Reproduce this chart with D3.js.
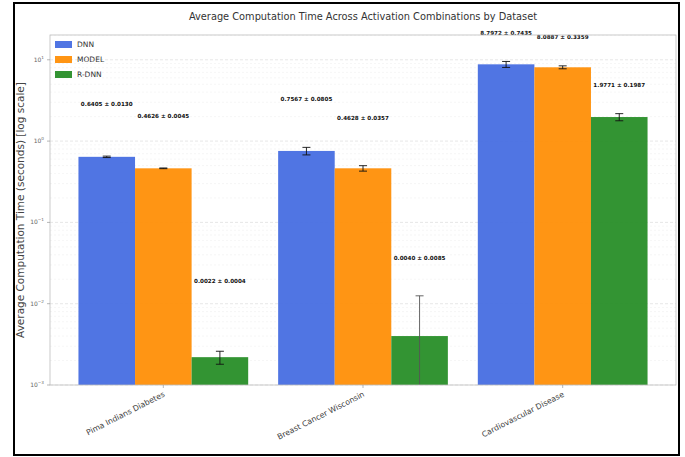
<!DOCTYPE html>
<html>
<head>
<meta charset="utf-8">
<script src="https://cdn.jsdelivr.net/npm/d3@7/dist/d3.min.js"></script>
<style>
  html, body { margin: 0; padding: 0; background: #fff; }
  svg { display: block; font-family: "DejaVu Sans", sans-serif; }
</style>
</head>
<body>
<svg id="chart" width="685" height="457"></svg>
<script>
// Datasets, model variants and measured times (seconds, mean ± std)
const datasets = ["Pima Indians Diabetes", "Breast Cancer Wisconsin", "Cardiovascular Disease"];
const models = ["DNN", "MODEL", "R-DNN"];
const colors = ["#4169E1", "#FF8C00", "#228B22"];

const dnnMean   = [0.6405, 0.7567, 8.7972];
const dnnStd    = [0.0130, 0.0805, 0.7435];
const modelMean = [0.4626, 0.4628, 8.0887];
const modelStd  = [0.0045, 0.0357, 0.3359];
const rdnnMean  = [0.0022, 0.0040, 1.9771];
const rdnnStd   = [0.0004, 0.0085, 0.1987];

const yTickValues = [1e-3, 1e-2, 1e-1, 1e0, 1e1];
const yTickExp    = ["-3", "-2", "-1", "0", "1"];

const means = [dnnMean, modelMean, rdnnMean];
const stds  = [dnnStd, modelStd, rdnnStd];

// Layout
const plot = { left: 50, right: 676, top: 35, bottom: 385 };
const barW = 0.85 / 3;
const xPad = 0.05 * (datasets.length - 1 + 3 * barW);
// vertical lift (px) of each value label above its error bar, per dataset/model
const labelLift = [[52, 52, 70], [48, 47, 37], [28, 28, 28]];

const svg = d3.select("#chart");

// figure frame
svg.append("rect")
  .attr("x", 14).attr("y", 3).attr("width", 665).attr("height", 452)
  .attr("fill", "#fff").attr("stroke", "#000").attr("stroke-width", 2);

const x = d3.scaleLinear()
  .domain([-1.5 * barW - xPad, datasets.length - 1 + 1.5 * barW + xPad])
  .range([plot.left, plot.right]);

const y = d3.scaleLog()
  .domain([1e-3, Math.pow(10, 1.305)])
  .range([plot.bottom, plot.top]);

// horizontal grid (major + faint minor)
const gridG = svg.append("g");
const minor = [];
for (let e = -3; e <= 1; e++) for (let m = 2; m <= 9; m++) {
  const v = m * Math.pow(10, e);
  if (v < y.domain()[1]) minor.push(v);
}
gridG.selectAll("line.minor").data(minor).join("line")
  .attr("class", "minor")
  .attr("x1", plot.left).attr("x2", plot.right)
  .attr("y1", d => y(d)).attr("y2", d => y(d))
  .attr("stroke", "#ededed").attr("stroke-width", 0.5).attr("stroke-dasharray", "2,2");
gridG.selectAll("line.major").data(yTickValues).join("line")
  .attr("class", "major")
  .attr("x1", plot.left).attr("x2", plot.right)
  .attr("y1", d => y(d)).attr("y2", d => y(d))
  .attr("stroke", "#dcdcdc").attr("stroke-width", 0.7).attr("stroke-dasharray", "3,2");

// bars
const barsG = svg.append("g");
models.forEach((m, j) => {
  barsG.selectAll("rect.s" + j).data(datasets).join("rect")
    .attr("class", "s" + j)
    .attr("x", (d, i) => x(i + (j - 1) * barW - barW / 2))
    .attr("width", x(barW) - x(0))
    .attr("y", (d, i) => y(means[j][i]))
    .attr("height", (d, i) => plot.bottom - y(means[j][i]))
    .attr("fill", colors[j]).attr("fill-opacity", 0.92);
});

// error bars and value labels
const errG = svg.append("g");
models.forEach((m, j) => {
  datasets.forEach((d, i) => {
    const cx = x(i + (j - 1) * barW);
    const hi = means[j][i] + stds[j][i];
    const lo = means[j][i] - stds[j][i];
    const yHi = y(hi);
    const clipped = lo <= y.domain()[0];
    const yLo = clipped ? plot.bottom : y(lo);
    const col = clipped ? "#555" : "#111";
    errG.append("line").attr("x1", cx).attr("x2", cx).attr("y1", yHi).attr("y2", yLo)
      .attr("stroke", col).attr("stroke-width", 0.9);
    errG.append("line").attr("x1", cx - 4).attr("x2", cx + 4).attr("y1", yHi).attr("y2", yHi)
      .attr("stroke", col).attr("stroke-width", 0.9);
    if (!clipped) {
      errG.append("line").attr("x1", cx - 4).attr("x2", cx + 4).attr("y1", yLo).attr("y2", yLo)
        .attr("stroke", col).attr("stroke-width", 0.9);
    }
    errG.append("text")
      .attr("x", cx).attr("y", yHi - labelLift[i][j])
      .attr("text-anchor", "middle").attr("dominant-baseline", "middle")
      .attr("font-size", 5.6).attr("font-weight", "bold").attr("fill", "#111")
      .text(means[j][i].toFixed(4) + " \u00b1 " + stds[j][i].toFixed(4));
  });
});

// axes frame
svg.append("rect")
  .attr("x", plot.left).attr("y", plot.top)
  .attr("width", plot.right - plot.left).attr("height", plot.bottom - plot.top)
  .attr("fill", "none").attr("stroke", "#bdbdbd").attr("stroke-width", 0.8);

// y ticks
const yAxis = svg.append("g");
yTickValues.forEach((v, k) => {
  const yy = y(v);
  yAxis.append("line").attr("x1", plot.left - 3).attr("x2", plot.left).attr("y1", yy).attr("y2", yy)
    .attr("stroke", "#999").attr("stroke-width", 0.7);
  const t = yAxis.append("text")
    .attr("x", plot.left - 6).attr("y", yy + 2)
    .attr("text-anchor", "end").attr("font-size", 6).attr("fill", "#666");
  t.append("tspan").text("10");
  t.append("tspan").attr("dy", -3).attr("font-size", 4.2)
    .text(yTickExp[k].replace("-", "\u2212"));
});

// x tick labels
const xAxis = svg.append("g");
datasets.forEach((d, i) => {
  const cx = x(i);
  xAxis.append("line").attr("x1", cx).attr("x2", cx).attr("y1", plot.bottom).attr("y2", plot.bottom + 3)
    .attr("stroke", "#999").attr("stroke-width", 0.7);
  xAxis.append("text")
    .attr("transform", `translate(${cx + 2},${plot.bottom + 11}) rotate(-27)`)
    .attr("text-anchor", "end").attr("font-size", 7.8).attr("fill", "#444")
    .text(d);
});

// axis title
svg.append("text")
  .attr("transform", `translate(21,${(plot.top + plot.bottom) / 2}) rotate(-90)`)
  .attr("text-anchor", "middle").attr("dominant-baseline", "middle")
  .attr("font-size", 10.5).attr("fill", "#444")
  .text("Average Computation Time (seconds) [log scale]");

// chart title
svg.append("text")
  .attr("x", (plot.left + plot.right) / 2).attr("y", 17)
  .attr("text-anchor", "middle").attr("dominant-baseline", "middle")
  .attr("font-size", 9.8).attr("fill", "#333")
  .text("Average Computation Time Across Activation Combinations by Dataset");

// legend
const legend = svg.append("g").attr("transform", `translate(${plot.left + 5},${plot.top + 6})`);
models.forEach((m, j) => {
  const g = legend.append("g").attr("transform", `translate(0,${j * 15})`);
  g.append("rect").attr("x", 0).attr("y", 0).attr("width", 17).attr("height", 7)
    .attr("fill", colors[j]).attr("fill-opacity", 0.92);
  g.append("text").attr("x", 22).attr("y", 4).attr("dominant-baseline", "middle")
    .attr("font-size", 7.5).attr("fill", "#333").text(m);
});
</script>
</body>
</html>
